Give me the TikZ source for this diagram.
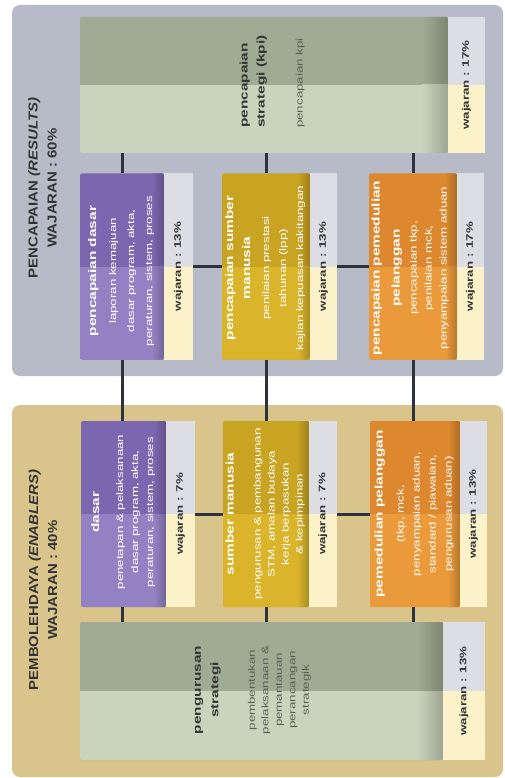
\documentclass[tikz,border=0pt]{standalone}
\usepackage{fontspec}
\setmainfont{Liberation Sans}
\newfontfamily\bx[FakeStretch=1.4]{Liberation Sans}
\newfontfamily\tx[FakeStretch=1.15]{Liberation Sans}
\usetikzlibrary{calc}
\definecolor{panelA}{HTML}{B6BBC7}
\definecolor{panelB}{HTML}{D9C58C}
\definecolor{sageD}{HTML}{9FAC93}
\definecolor{sageL}{HTML}{CAD4BD}
\definecolor{tabG}{HTML}{DDDEE3}
\definecolor{tabC}{HTML}{FBF2C9}
\definecolor{purD}{HTML}{7A67AF}
\definecolor{purL}{HTML}{9382C3}
\definecolor{yelD}{HTML}{C9A322}
\definecolor{yelL}{HTML}{DAB42A}
\definecolor{oraD}{HTML}{DD882E}
\definecolor{oraL}{HTML}{EA9A3A}
\definecolor{connC}{HTML}{2D323E}
\definecolor{dk}{HTML}{333333}
\definecolor{gr}{HTML}{5C5F58}
\newcommand\hb{\bx\bfseries\fontsize{11}{13}\selectfont}
\newcommand\hs{\bx\fontsize{9.5}{12}\selectfont}
\newcommand\tb{\bx\bfseries\fontsize{9.5}{12}\selectfont}
\begin{document}
\begin{tikzpicture}[x=1pt,y=-1pt,
  panel/.style={rounded corners=8pt, inner sep=0pt, outer sep=0pt, draw=none},
  splitbox/.style n args={3}{inner sep=0pt, outer sep=0pt, draw=none, fill=#1, rounded corners=2pt,
    path picture={
      \fill[#2, sharp corners] (path picture bounding box.west) rectangle (path picture bounding box.south east);
      \shade[sharp corners, left color=#1, right color=#1!78!black]
        ($(path picture bounding box.north east)+(-#3,0)$) rectangle (path picture bounding box.east);
      \shade[sharp corners, left color=#2, right color=#2!78!black]
        ($(path picture bounding box.east)+(-#3,0)$) rectangle (path picture bounding box.south east);
    }},
  tabbox/.style={inner sep=0pt, outer sep=0pt, draw=none, fill=tabG,
    path picture={\fill[tabC] (path picture bounding box.west) rectangle (path picture bounding box.south east);}},
  lbl/.style={rotate=90, align=center, inner sep=0pt},
  tabtxt/.style={lbl, font=\tb, text=dk},
  cn/.style={draw=connC, line width=3pt},
]
\useasboundingbox (0,0) rectangle (505,778);
\fill[white] (0,0) rectangle (505,778);

% panels
\node[panel, fill=panelA, minimum width=491pt, minimum height=371pt] (pres) at (257.5,190.5) {};
\node[panel, fill=panelB, minimum width=491pt, minimum height=372pt] (pen) at (257.5,591) {};

\node[lbl, font=\tx\bfseries\fontsize{13}{19}\selectfont, text=dk] (tres) at (42.5,188)
  {PENCAPAIAN \textit{(RESULTS)}\\WAJARAN : 60\%};
\node[lbl, font=\tx\bfseries\fontsize{13}{19}\selectfont, text=dk] (tpen) at (43,580)
  {PEMBOLEHDAYA \textit{(ENABLERS)}\\WAJARAN : 40\%};

% kpi box
\node[splitbox={sageD}{sageL}{26}, minimum width=368pt, minimum height=136pt] (kpi) at (264,85) {};
\node[tabbox, minimum width=37pt, minimum height=136pt] (tk) at (466.5,85) {};
\node[tabtxt] (tkl) at (tk) {wajaran : 17\%};
\node[lbl, align=left, anchor=west, text=dk, font=\fontsize{9.5}{17}\selectfont] (kpit) at (272,128)
  {{\hb pencapaian}\\{\hb strategi (kpi)}\\[21pt]{\hs\color{gr}pencapaian kpi}};

% results row
\node[splitbox={purD}{purL}{12}, minimum width=84pt, minimum height=186pt] (r1) at (122,266.5) {};
\node[tabbox, minimum width=29pt, minimum height=186pt] (rt1) at (178.5,266.5) {};
\node[splitbox={yelD}{yelL}{12}, minimum width=88pt, minimum height=186pt] (r2) at (266,266.5) {};
\node[tabbox, minimum width=27pt, minimum height=186pt] (rt2) at (323.5,266.5) {};
\node[splitbox={oraD}{oraL}{12}, minimum width=88pt, minimum height=186pt] (r3) at (413,266.5) {};
\node[tabbox, minimum width=27pt, minimum height=186pt] (rt3) at (470.5,266.5) {};
\node[tabtxt] (rt1l) at (rt1) {wajaran : 13\%};
\node[tabtxt] (rt2l) at (rt2) {wajaran : 13\%};
\node[tabtxt] (rt3l) at (rt3) {wajaran : 17\%};

\node[lbl, text=white, font=\fontsize{9.5}{18}\selectfont] (r1t) at (121,271)
  {{\hb pencapaian dasar}\\[2pt]{\hs laporan kemajuan}\\{\hs dasar program, akta,}\\{\hs peraturan, sistem, proses}};
\node[lbl, text=white, font=\fontsize{9.5}{17}\selectfont] (r2t) at (265,268)
  {{\hb pencapaian sumber}\\{\hb manusia}\\[2pt]{\hs penilaian prestasi}\\{\hs tahunan (lpp)}\\{\hs kajian kepuasan kakitangan}};
\node[lbl, text=white, font=\fontsize{9.5}{15}\selectfont] (r3t) at (410,268)
  {{\hb pencapaian pemedulian}\\[5pt]{\hb pelanggan}\\[2pt]{\hs pencapaian tkp,}\\{\hs penilaian mck,}\\{\hs penyampaian sistem aduan}};

% enablers row
\node[splitbox={purD}{purL}{12}, minimum width=85pt, minimum height=186pt] (e1) at (123.5,514) {};
\node[tabbox, minimum width=29pt, minimum height=186pt] (et1) at (180.5,514) {};
\node[splitbox={yelD}{yelL}{12}, minimum width=86pt, minimum height=186pt] (e2) at (266,514) {};
\node[tabbox, minimum width=28pt, minimum height=186pt] (et2) at (323,514) {};
\node[splitbox={oraD}{oraL}{12}, minimum width=90pt, minimum height=186pt] (e3) at (415,514) {};
\node[tabbox, minimum width=27pt, minimum height=186pt] (et3) at (473.5,514) {};
\node[tabtxt] (et1l) at (et1) {wajaran : 7\%};
\node[tabtxt] (et2l) at (et2) {wajaran : 7\%};
\node[tabtxt] (et3l) at (et3) {wajaran : 13\%};

\node[lbl, text=white, font=\fontsize{9.5}{15}\selectfont] (e1t) at (123,512)
  {{\hb dasar}\\[9pt]{\hs penetapan \& pelaksanaan}\\{\hs dasar program, akta,}\\{\hs peraturan, sistem, proses}};
\node[lbl, text=white, font=\fontsize{9.5}{14}\selectfont] (e2t) at (265,514)
  {{\hb sumber manusia}\\[13pt]{\hs pengurusan \& pembangunan}\\{\hs STM, amalan budaya}\\{\hs kerja berpasukan}\\{\hs \& kepimpinan}};
\node[lbl, text=white, font=\fontsize{9.5}{16}\selectfont] (e3t) at (414,514)
  {{\hb pemedulian pelanggan}\\[5pt]{\hs (tkp, mck,}\\{\hs penyampaian aduan,}\\{\hs standard / piawaian,}\\{\hs pengurusan aduan)}};

% strategy box
\node[splitbox={sageD}{sageL}{26}, minimum width=363pt, minimum height=138pt] (st) at (261.5,691) {};
\node[tabbox, minimum width=42pt, minimum height=138pt] (stt) at (464,691) {};
\node[tabtxt] (sttl) at (stt) {wajaran : 13\%};
\node[lbl, text=dk, font=\fontsize{9.5}{13.5}\selectfont] (stx) at (253,690)
  {{\hb pengurusan}\\[4pt]{\hb strategi}\\[23pt]{\hs\color{gr}pembentukan}\\{\hs\color{gr}pelaksanaan \&}\\{\hs\color{gr}pemantauan}\\{\hs\color{gr}perancangan}\\{\hs\color{gr}strategik}};

% connectors
\foreach \c in {r1,r2,r3}{
  \draw[cn] (\c.north) -- (\c.north |- kpi.south);
}
\draw[cn] (r1.south) -- (r1.south |- e1.north);
\draw[cn] (r2.south) -- (r2.south |- e2.north);
\draw[cn] (r3.south) -- (r3.south |- e3.north);
\draw[cn] (r1.south |- e1.south) -- (r1.south |- st.north);
\draw[cn] (r2.south |- e2.south) -- (r2.south |- st.north);
\draw[cn] (r3.south |- e3.south) -- (r3.south |- st.north);
\draw[cn] (rt1.east) -- (r2.west);
\draw[cn] (rt2.east) -- (r3.west);
\draw[cn] (et1.east) -- (e2.west);
\draw[cn] (et2.east) -- (e3.west);
\end{tikzpicture}
\end{document}
